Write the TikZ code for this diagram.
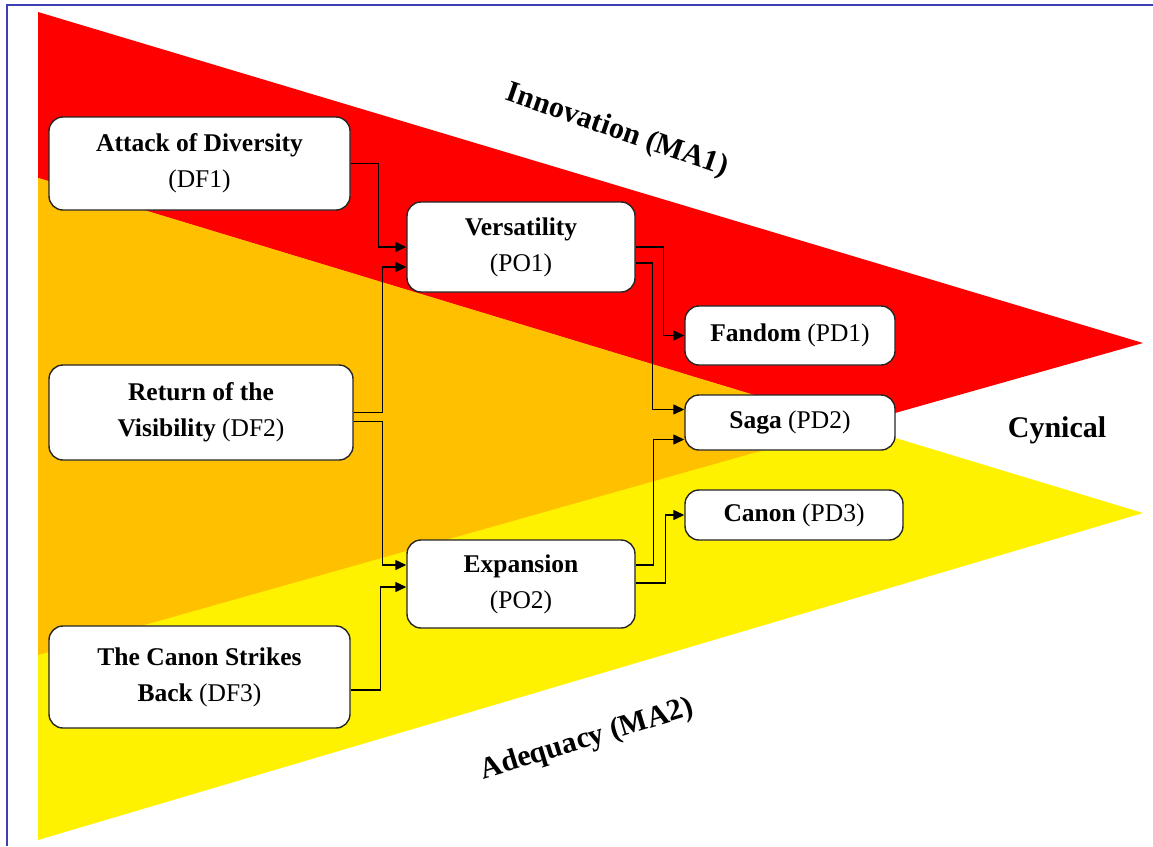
\documentclass[tikz,border=0pt]{standalone}
\usepackage{fontspec}
\setmainfont{Liberation Serif}
\usepackage{xcolor}
\usetikzlibrary{calc}
\usetikzlibrary{arrows.meta}
\definecolor{frameblue}{HTML}{3F3FB5}
\definecolor{mixorange}{HTML}{FFC000}

\begin{document}
\begin{tikzpicture}
    [x=1pt, y=-1pt,
    box/.style={rectangle, rounded corners=14pt, draw=black!85, line width=1.4pt, fill=white, align=center, inner sep=0pt, font=\fontsize{25.5}{36}\selectfont},
    link/.style={line width=1.3pt, -{Triangle[length=11pt,width=10pt]}},
    title/.style={font=\fontsize{30}{36}\selectfont\bfseries}]
    \useasboundingbox (0,0) rectangle (1153,846);
    \draw[frameblue, line width=1.5pt] (7,846) -- (7,5) -- (1153,5);
    % the two arrows and their overlap
    \fill[red] (38,12) -- (1143,343) -- (38,655) -- cycle;
    \fill[yellow] (38,178) -- (1143,513) -- (38,840) -- cycle;
    \begin{scope}
        \clip (38,12) -- (1143,343) -- (38,655) -- cycle;
        \fill[mixorange] (38,178) -- (1143,513) -- (38,840) -- cycle;
    \end{scope}
    \node(ma1)[title, rotate=-19] at (617,131) {Innovation (MA1)};
    \node(ma2)[title, rotate=17] at (587,740) {Adequacy (MA2)};
    \node(cyn)[title] at (1057,430) {Cynical};
    % boxes
    \foreach \n/\x/\y/\w/\h/\t in {df1/199.5/163.5/301/93/{\textbf{Attack of Diversity}\\(DF1)},
        df2/201/412.5/304/95/{\textbf{Return of the}\\\textbf{Visibility} (DF2)},
        df3/199.5/677/301/102/{\textbf{The Canon Strikes}\\\textbf{Back} (DF3)},
        po1/521/247/228/90/{\textbf{Versatility}\\(PO1)},
        po2/521/584/228/88/{\textbf{Expansion}\\(PO2)},
        pd1/790/335.5/210/59/{\textbf{Fandom} (PD1)},
        pd2/790/422.5/210/55/{\textbf{Saga} (PD2)},
        pd3/794/515/218/50/{\textbf{Canon} (PD3)}}{
        \node(\n)[box, minimum width=\w pt, minimum height=\h pt] at (\x,\y) {\t};
    }
    % links
    \draw[link] (df1.east) -- ++(28,0) |- (po1.west);
    \draw[link] (df2.east) -- ++(29,0) |- ([yshift=-20pt]po1.west);
    \draw[link] ([yshift=-9pt]df2.east) -- ++(29,0) |- ([yshift=19pt]po2.west);
    \draw[link] ([yshift=-13pt]df3.east) -- ++(30,0) |- ([yshift=-3pt]po2.west);
    \draw[link] (po1.east) -- ++(28,0) |- (pd1.west);
    \draw[link] ([yshift=-16pt]po1.east) -- ++(17,0) |- ([yshift=13pt]pd2.west);
    \draw[link] ([yshift=19pt]po2.east) -- ++(18,0) |- ([yshift=-17pt]pd2.west);
    \draw[link] ([yshift=1pt]po2.east) -- ++(30,0) |- (pd3.west);
\end{tikzpicture}
\end{document}
